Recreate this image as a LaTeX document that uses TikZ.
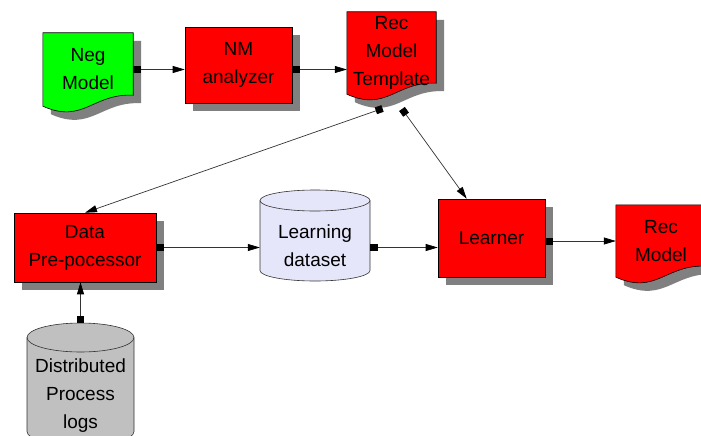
\documentclass[tikz,border=0pt]{standalone}
\usepackage{fontspec}
\setmainfont{Liberation Sans}
\usetikzlibrary{arrows.meta,calc}
\pgfdeclarelayer{background}
\pgfsetlayers{background,main}

\definecolor{boxred}{RGB}{255,0,0}
\definecolor{docgreen}{RGB}{0,255,0}
\definecolor{dslav}{RGB}{230,230,250}
\definecolor{loggray}{RGB}{192,192,192}
\definecolor{shadowgray}{RGB}{128,128,128}

% document symbol: flat top, wavy bottom; #2,#3 shift the whole outline
\newcommand\docpath[3]{%
  ($(#1.north west)+({#2},{#3})$) -- ($(#1.north east)+({#2},{#3})$)
  -- ($(#1.south east)+({#2},{#3-11})$)
  .. controls ($(#1.south west)!0.55!(#1.south east)+({#2},{#3-13})$)
  and ($(#1.south west)!0.45!(#1.south east)+({#2},{#3+18})$)
  .. ($(#1.south west)+({#2},{#3})$) -- cycle}

% database cylinder: x1, top, x2, bottom, end radius, fill
\newcommand\dbcylinder[6]{%
  \filldraw[fill=#6, draw=black!80, line width=0.6pt]
    (#1,{#2+#5}) -- (#1,{#4-#5})
    .. controls (#1,{#4-#5+0.552*#5}) and ({(#1+#3)/2-0.552*(#3-#1)/2},#4) .. ({(#1+#3)/2},#4)
    .. controls ({(#1+#3)/2+0.552*(#3-#1)/2},#4) and (#3,{#4-#5+0.552*#5}) .. (#3,{#4-#5})
    -- (#3,{#2+#5})
    .. controls (#3,{#2+#5-0.552*#5}) and ({(#1+#3)/2+0.552*(#3-#1)/2},#2) .. ({(#1+#3)/2},#2)
    .. controls ({(#1+#3)/2-0.552*(#3-#1)/2},#2) and (#1,{#2+#5-0.552*#5}) .. (#1,{#2+#5}) -- cycle;
  \draw[draw=black!80, line width=0.6pt]
    (#1,{#2+#5})
    .. controls (#1,{#2+#5+0.552*#5}) and ({(#1+#3)/2-0.552*(#3-#1)/2},{#2+2*#5}) .. ({(#1+#3)/2},{#2+2*#5})
    .. controls ({(#1+#3)/2+0.552*(#3-#1)/2},{#2+2*#5}) and (#3,{#2+#5+0.552*#5}) .. (#3,{#2+#5});
}

\tikzset{
  lbl/.style={align=center, inner sep=0pt, font=\fontsize{19}{28}\selectfont},
  procbox/.style={lbl, rectangle, fill=boxred, draw=black, line width=0.6pt},
  textonly/.style={lbl, rectangle},
  conn/.style={draw=black!80, line width=0.7pt,
    {Square[length=7pt,width=7pt,black]}-{Triangle[length=12pt,width=7pt,black]}},
}

\begin{document}
\begin{tikzpicture}[x=1pt, y=-1pt]
\useasboundingbox (0,0) rectangle (701,436);

% processing boxes
\node[procbox, minimum width=107pt, minimum height=76pt] (nm) at (238.5,65) {NM\\analyzer};
\node[procbox, minimum width=142pt, minimum height=69pt] (dp) at (85,247.5) {Data\\Pre-pocessor};
\node[procbox, minimum width=107pt, minimum height=78pt] (learner) at (491.5,238) {Learner};

% documents (outline drawn on the background layer)
\node[textonly, minimum width=90pt, minimum height=73pt] (neg) at (88,69.5) {Neg\\Model};
\node[textonly, minimum width=89pt, minimum height=82pt] (rmt) at (391.5,53) {Rec\\Model\\Template};
\node[textonly, minimum width=90pt, minimum height=72pt] (rec) at (661,241) {Rec\\Model};

% databases
\node[textonly, minimum width=110pt, minimum height=70pt] (ld) at (315,246) {Learning\\dataset};
\node[textonly, minimum width=107pt, minimum height=94pt] (logs) at (80.5,396) {Distributed\\Process\\logs};

\begin{pgfonlayer}{background}
  \foreach \b in {nm,dp,learner}
    \fill[shadowgray] ($(\b.north west)+(8,8)$) rectangle ($(\b.south east)+(8,8)$);
  \fill[shadowgray] \docpath{neg}{8}{8};
  \fill[shadowgray] \docpath{rmt}{8}{8};
  \fill[shadowgray] \docpath{rec}{8}{8};
  \filldraw[fill=docgreen, draw=black, line width=0.6pt] \docpath{neg}{0}{0};
  \filldraw[fill=boxred, draw=black, line width=0.6pt] \docpath{rmt}{0}{0};
  \filldraw[fill=boxred, draw=black, line width=0.6pt] \docpath{rec}{0}{0};
  \dbcylinder{260}{190}{370}{281}{10.5}{dslav}
  \dbcylinder{27}{323}{134}{446}{14.5}{loggray}
\end{pgfonlayer}

% connector end points on the shapes' outlines
\coordinate (logstop) at (80.5,323);
\coordinate (rmtA) at (382.5,108.5);
\coordinate (rmtB) at (402,109);
\coordinate (lrnin) at ($(learner.north west)+(29,0)$);

\draw[conn] (neg.east) -- (nm.west |- neg.east);
\draw[conn] (nm.east |- neg.east) -- (rmt.west |- neg.east);
\draw[conn] (dp.east) -- (ld.west |- dp.east);
\draw[conn] (ld.east |- dp.east) -- (learner.west |- dp.east);
\draw[conn] (learner.east |- rec.west) -- (rec.west);
\draw[conn] (logstop) -- (logstop |- dp.south);
\draw[conn] (rmtA) -- (dp.north);
\draw[conn] (rmtB) -- (lrnin);
\end{tikzpicture}
\end{document}
